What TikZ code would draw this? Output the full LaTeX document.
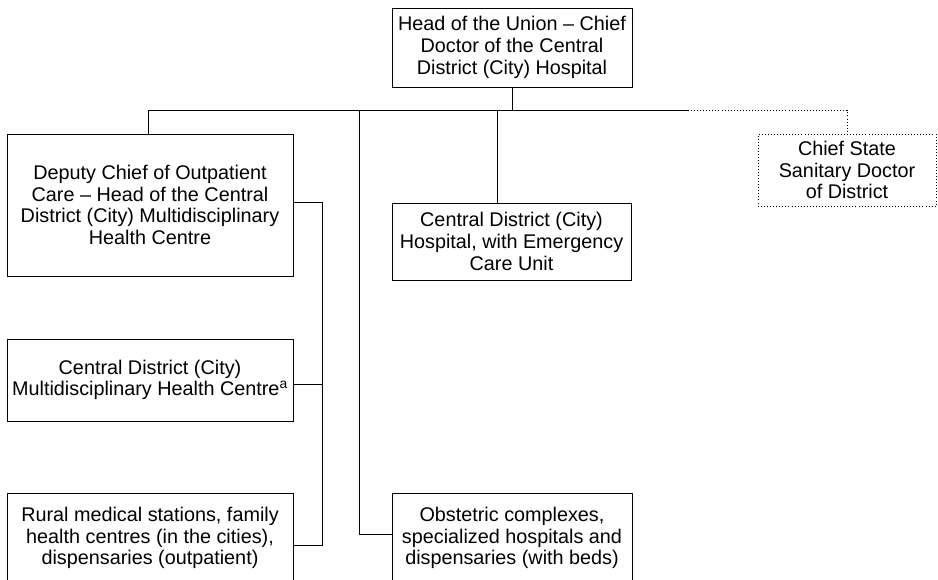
\documentclass[tikz,border=0pt]{standalone}
\usepackage{fontspec}
\setmainfont{Liberation Sans}
\usetikzlibrary{calc,positioning}

\begin{document}
\begin{tikzpicture}[x=0.03cm, y=-0.03cm, line width=0.6pt,
    orgbox/.style={draw, rectangle, align=center, inner sep=0pt,
        font=\fontsize{16.9}{18.5}\selectfont},
    dotbox/.style={orgbox, dotted}]
    \useasboundingbox (0,0) rectangle (938,579);
    \clip (0,0) rectangle (938,579);

    % boxes
    \node[orgbox, minimum width=240*0.03cm, minimum height=79*0.03cm] (head) at (512,47.5)
        {Head of the Union -- Chief\\Doctor of the Central\\District (City) Hospital};
    \node[orgbox, minimum width=286*0.03cm, minimum height=142*0.03cm] (deputy) at (150,205)
        {Deputy Chief of Outpatient\\Care -- Head of the Central\\District (City) Multidisciplinary\\Health Centre};
    \node[orgbox, minimum width=239*0.03cm, minimum height=77*0.03cm] (hosp) at (511.5,241.5)
        {Central District (City)\\Hospital, with Emergency\\Care Unit};
    \node[dotbox, minimum width=178*0.03cm, minimum height=72*0.03cm] (sanit) at (847,170)
        {Chief State\\Sanitary Doctor\\of District};
    \node[orgbox, minimum width=286*0.03cm, minimum height=82*0.03cm] (centre) at (150,380)
        {Central District (City)\\Multidisciplinary Health Centre\textsuperscript{a}};
    \node[orgbox, minimum width=286*0.03cm, minimum height=90*0.03cm] (rural) at (150,538)
        {Rural medical stations, family\\health centres (in the cities),\\dispensaries (outpatient)};
    \node[orgbox, minimum width=240*0.03cm, minimum height=90*0.03cm] (obst) at (512,538)
        {Obstetric complexes,\\specialized hospitals and\\dispensaries (with beds)};

    % bus
    \coordinate (bus) at ($(head.south)+(0,23)$);
    \coordinate (split) at (688,110);
    \coordinate (spine) at (359,110);

    \draw (head.south) -- (bus);
    \draw ([xshift=-2*0.03cm]deputy.north) |- (split);
    \draw[dotted] (split) -| (sanit.north);
    \draw ([xshift=-14*0.03cm]hosp.north) -- ([xshift=-14*0.03cm]hosp.north |- bus);
    \draw ([yshift=4*0.03cm]obst.west) -| (spine);

    % outpatient bracket
    \draw ([yshift=3*0.03cm]deputy.east) -- ++(29,0) |- ([yshift=-7*0.03cm]rural.east);
    \draw ([yshift=-4*0.03cm]centre.east) -- ++(29,0);
\end{tikzpicture}
\end{document}
